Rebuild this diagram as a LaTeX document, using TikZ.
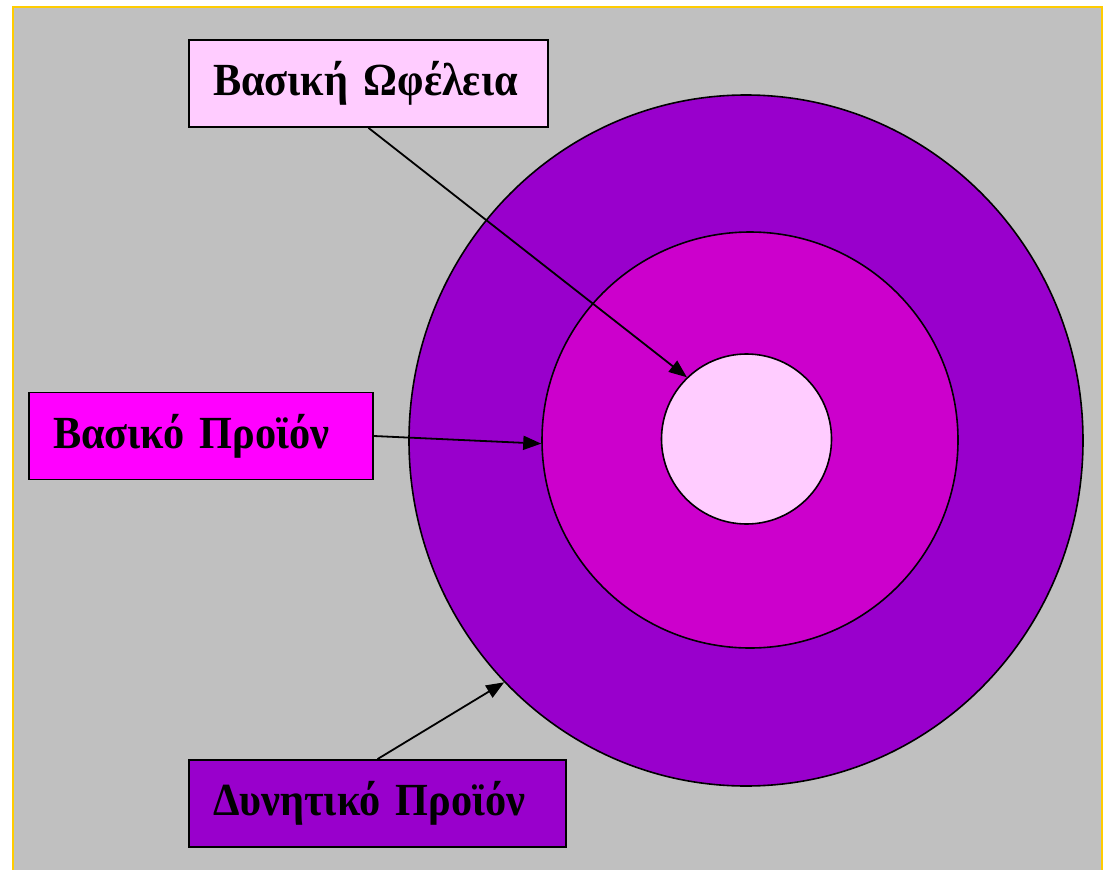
\documentclass[tikz,border=0pt]{standalone}
\usepackage{fontspec}
\setmainfont[FakeStretch=0.92]{Liberation Serif}
\usetikzlibrary{shapes.geometric,arrows.meta}

\begin{document}
\begin{tikzpicture}[x=1pt, y=-1pt,
    label box/.style={draw=black, line width=1.8pt, inner xsep=24pt, inner ysep=0pt,
        minimum height=87pt, align=left,
        font=\bfseries\fontsize{46}{50}\selectfont},
    ring/.style={draw=black, line width=1.6pt, inner sep=0pt},
    pointer/.style={line width=1.8pt, -{Triangle[length=18pt,width=14pt]}}]
    \definecolor{mybg}{RGB}{192,192,192}
    \definecolor{myframe}{RGB}{255,204,0}
    \definecolor{mylight}{RGB}{255,204,255}
    \definecolor{mymagenta}{RGB}{255,0,255}
    \definecolor{mymid}{RGB}{204,0,204}
    \definecolor{mypurple}{RGB}{153,0,204}

    \useasboundingbox (0,0) rectangle (1103,870);
    \fill[mybg] (12,7) rectangle (1103,870);
    \draw[myframe, line width=2.5pt] (13,870) -- (13,7) -- (1102,7) -- (1102,870);

    % rings
    \node[ring, ellipse, fill=mypurple, minimum width=674pt, minimum height=691pt] (outer) at (746,440.5) {};
    \node[ring, circle, fill=mymid, minimum size=416pt] (middle) at (750,440) {};
    \node[ring, circle, fill=mylight, minimum size=170pt] (inner) at (746.5,439) {};

    % labels
    \node[label box, fill=mylight, text width=311pt] (benefit) at (368.5,83.5) {\mbox{Βασική Ωφέλεια}};
    \node[label box, fill=mymagenta, text width=296pt] (core) at (201,436) {\mbox{Βασικό Προϊόν}};
    \node[label box, fill=mypurple, text width=329pt] (potential) at (377.5,803.5) {\mbox{Δυνητικό Προϊόν}};

    \draw[pointer] (benefit.south) -- (inner.134);
    \draw[pointer] (core.east) -- (middle.181);
    \draw[pointer] (potential.north) -- (outer.225.6);
\end{tikzpicture}
\end{document}
